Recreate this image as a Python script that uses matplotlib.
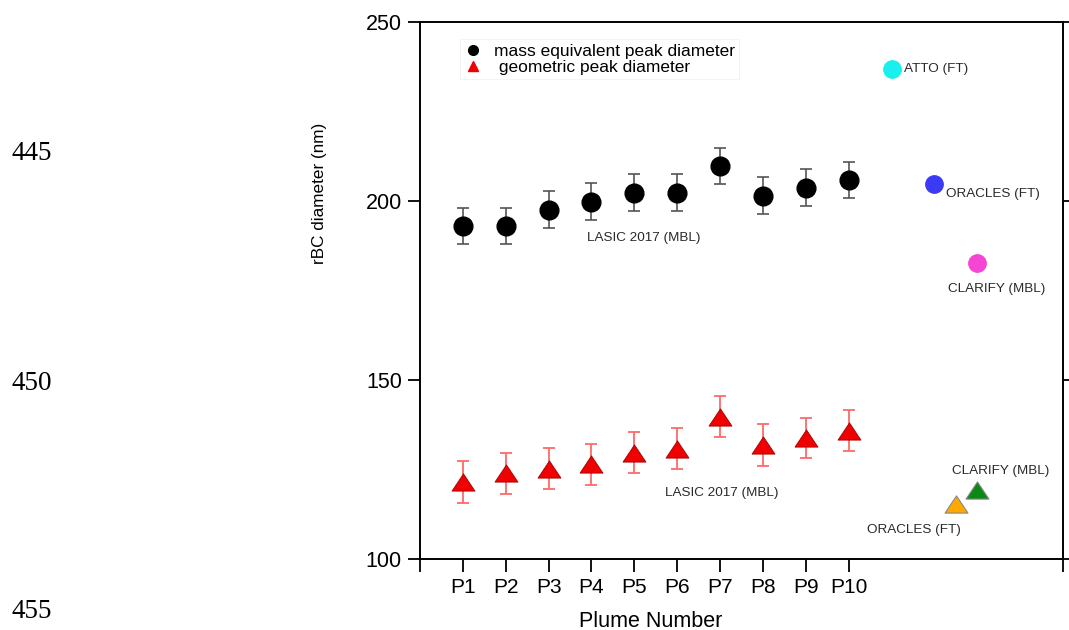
import matplotlib
matplotlib.use("Agg")
import matplotlib.pyplot as plt
from matplotlib.path import Path
from matplotlib.lines import Line2D

plt.rcParams['font.family'] = ['Liberation Sans', 'DejaVu Sans']

# Plume-resolved peak diameters (LASIC 2017, MBL)
plumes = ["P1", "P2", "P3", "P4", "P5", "P6", "P7", "P8", "P9", "P10"]
mass_eq = [193.0, 193.0, 197.6, 199.8, 202.3, 202.3, 209.8, 201.5, 203.7, 205.8]
mass_eq_err = [5.1, 5.1, 5.1, 5.1, 5.1, 5.1, 5.1, 5.1, 5.1, 5.1]
geometric = [121.5, 123.9, 125.2, 126.5, 129.7, 130.8, 139.8, 131.8, 133.8, 135.8]
geometric_err = [5.8, 5.7, 5.7, 5.7, 5.7, 5.7, 5.8, 5.8, 5.7, 5.7]

# Reference campaigns (mass equivalent: circles, geometric: triangles)
ref_mass_names = ["ATTO (FT)", "ORACLES (FT)", "CLARIFY (MBL)"]
ref_mass_x = [11.0, 12.0, 13.0]
ref_mass_vals = [236.9, 204.8, 182.8]
ref_mass_colors = ["#19f0ee", "#3b3bf5", "#f545d2"]

ref_geo_names = ["ORACLES (FT)", "CLARIFY (MBL)"]
ref_geo_x = [12.5, 13.0]
ref_geo_vals = [115.4, 119.3]
ref_geo_colors = ["#ffa800", "#0a8a12"]

fig = plt.figure(figsize=(10.69, 6.30), dpi=100)
ax = fig.add_axes([0.3929, 0.1127, 0.6015, 0.8524])

xpos = list(range(1, len(plumes) + 1))

# wide, flat triangle marker
tri = Path([(0, 0.75), (-1, -0.75), (1, -0.75), (0, 0.75)],
           [Path.MOVETO, Path.LINETO, Path.LINETO, Path.CLOSEPOLY])

ax.errorbar(xpos, mass_eq, yerr=mass_eq_err, fmt='o', color='black',
            markersize=13.5, ecolor='#555555', elinewidth=1.2, capsize=4.3,
            capthick=1.2, zorder=3)
ax.errorbar(xpos, geometric, yerr=geometric_err, fmt='none',
            ecolor='#ff6a6a', elinewidth=1.3, capsize=4.3, capthick=1.3, zorder=2)
ax.plot(xpos, geometric, linestyle='none', marker=tri, markersize=16.5,
        markerfacecolor='#f00000', markeredgecolor='#a00000',
        markeredgewidth=0.6, zorder=3)

for xv, yv, c in zip(ref_mass_x, ref_mass_vals, ref_mass_colors):
    ax.plot([xv], [yv], linestyle='none', marker='o', markersize=12.5,
            color=c, zorder=3)
for xv, yv, c in zip(ref_geo_x, ref_geo_vals, ref_geo_colors):
    ax.plot([xv], [yv], linestyle='none', marker=tri, markersize=16.5,
            markerfacecolor=c, markeredgecolor='#888888',
            markeredgewidth=0.8, zorder=3)

label_kw = dict(fontsize=9.7, color='#2a2a2a', ha='left', va='center')
ax.text(11.29, 236.9, ref_mass_names[0], **label_kw)
ax.text(12.27, 202.0, ref_mass_names[1], **label_kw)
ax.text(12.32, 175.4, ref_mass_names[2], **label_kw)
ax.text(10.43, 108.0, ref_geo_names[0], **label_kw)
ax.text(12.41, 124.6, ref_geo_names[1], **label_kw)
ax.text(3.90, 189.6, "LASIC 2017 (MBL)", **label_kw)
ax.text(5.72, 118.4, "LASIC 2017 (MBL)", **label_kw)

ax.set_xlim(0, 15)
ax.set_ylim(100, 250)
ax.set_xticks([0] + xpos + [15])
ax.set_xticklabels([""] + plumes + [""])
ax.set_yticks([100, 150, 200, 250])

ax.tick_params(axis='both', direction='out', length=9, width=1.3,
               colors='black')
ax.tick_params(axis='y', right=True, pad=4, labelsize=15.5)
ax.tick_params(axis='x', pad=5, labelsize=15)
for sp in ax.spines.values():
    sp.set_linewidth(1.4)

ax.set_ylabel("rBC diameter (nm)", fontsize=12.3)
ax.yaxis.set_label_coords(-0.144, 0.68)
ax.set_xlabel("Plume Number", fontsize=15.5)
ax.xaxis.set_label_coords(0.358, -0.097)

handles = [
    Line2D([], [], linestyle='none', marker='o', markersize=7, color='black'),
    Line2D([], [], linestyle='none', marker='^', markersize=7, color='#f00000'),
]
leg = ax.legend(handles, ["mass equivalent peak diameter", " geometric peak diameter"],
                loc='upper left', bbox_to_anchor=(0.062, 0.968), fontsize=12.5,
                frameon=True, fancybox=False, handlelength=1.0, handletextpad=0.7,
                borderpad=0.25, labelspacing=0.05, borderaxespad=0)
leg.get_frame().set_edgecolor('#eeeeee')
leg.get_frame().set_linewidth(0.6)

# document line numbers down the left margin
for ytxt, num in [(153, "445"), (383, "450"), (612, "455")]:
    fig.text(12 / 1069, 1 - ytxt / 630, num, fontsize=19.5,
             family=['Liberation Serif', 'DejaVu Serif'], ha='left', va='center')

fig.savefig("out.png", dpi=100)
